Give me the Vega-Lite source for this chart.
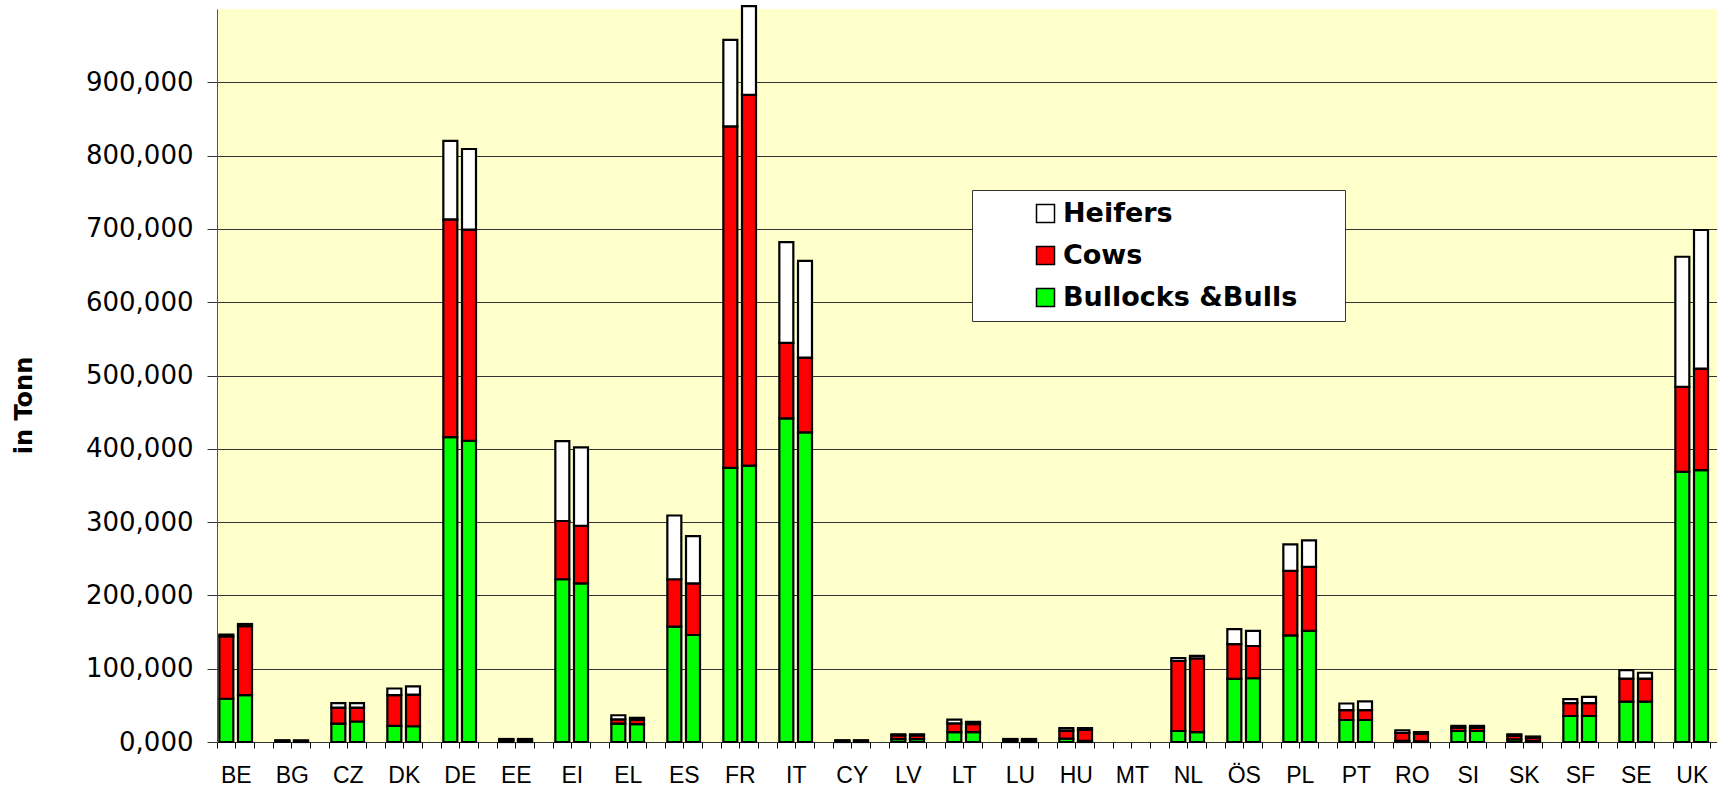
{
  "$schema": "https://vega.github.io/schema/vega-lite/v6.json",
  "autosize": {"type": "none"},
  "padding": {"left": 217, "top": 9, "right": 0, "bottom": 45},
  "width": 1500,
  "height": 733,
  "background": "white",
  "config": {
    "view": {"fill": "#FFFFCC", "stroke": null}
  },
  "data": {
    "values": [
      {"bar": "BE 1", "Bullocks &Bulls": 59000, "Cows": 85000, "Heifers": 2500},
      {"bar": "BE 2", "Bullocks &Bulls": 64000, "Cows": 94000, "Heifers": 3000},
      {"bar": "BG 1", "Bullocks &Bulls": 1000, "Cows": 800, "Heifers": 300},
      {"bar": "BG 2", "Bullocks &Bulls": 1000, "Cows": 800, "Heifers": 300},
      {"bar": "CZ 1", "Bullocks &Bulls": 25000, "Cows": 22000, "Heifers": 6000},
      {"bar": "CZ 2", "Bullocks &Bulls": 28000, "Cows": 19000, "Heifers": 6000},
      {"bar": "DK 1", "Bullocks &Bulls": 22000, "Cows": 42000, "Heifers": 9000},
      {"bar": "DK 2", "Bullocks &Bulls": 21500, "Cows": 43000, "Heifers": 11500},
      {"bar": "DE 1", "Bullocks &Bulls": 416000, "Cows": 297000, "Heifers": 107000},
      {"bar": "DE 2", "Bullocks &Bulls": 411000, "Cows": 288000, "Heifers": 110000},
      {"bar": "EE 1", "Bullocks &Bulls": 1800, "Cows": 1700, "Heifers": 600},
      {"bar": "EE 2", "Bullocks &Bulls": 1800, "Cows": 1700, "Heifers": 600},
      {"bar": "EI 1", "Bullocks &Bulls": 222000, "Cows": 79500, "Heifers": 109000},
      {"bar": "EI 2", "Bullocks &Bulls": 216500, "Cows": 78500, "Heifers": 107000},
      {"bar": "EL 1", "Bullocks &Bulls": 25000, "Cows": 6000, "Heifers": 5500},
      {"bar": "EL 2", "Bullocks &Bulls": 24500, "Cows": 5500, "Heifers": 3000},
      {"bar": "ES 1", "Bullocks &Bulls": 157500, "Cows": 64500, "Heifers": 87000},
      {"bar": "ES 2", "Bullocks &Bulls": 146000, "Cows": 70500, "Heifers": 64500},
      {"bar": "FR 1", "Bullocks &Bulls": 374000, "Cows": 466000, "Heifers": 118000},
      {"bar": "FR 2", "Bullocks &Bulls": 377000, "Cows": 506000, "Heifers": 121000},
      {"bar": "IT 1", "Bullocks &Bulls": 441500, "Cows": 103000, "Heifers": 137500},
      {"bar": "IT 2", "Bullocks &Bulls": 422500, "Cows": 102000, "Heifers": 132000},
      {"bar": "CY 1", "Bullocks &Bulls": 1000, "Cows": 1000, "Heifers": 300},
      {"bar": "CY 2", "Bullocks &Bulls": 1000, "Cows": 1000, "Heifers": 300},
      {"bar": "LV 1", "Bullocks &Bulls": 4000, "Cows": 5000, "Heifers": 1500},
      {"bar": "LV 2", "Bullocks &Bulls": 4000, "Cows": 5000, "Heifers": 1500},
      {"bar": "LT 1", "Bullocks &Bulls": 13500, "Cows": 12000, "Heifers": 5000},
      {"bar": "LT 2", "Bullocks &Bulls": 13500, "Cows": 11000, "Heifers": 3000},
      {"bar": "LU 1", "Bullocks &Bulls": 1800, "Cows": 1700, "Heifers": 600},
      {"bar": "LU 2", "Bullocks &Bulls": 1800, "Cows": 1700, "Heifers": 600},
      {"bar": "HU 1", "Bullocks &Bulls": 4500, "Cows": 11000, "Heifers": 3500},
      {"bar": "HU 2", "Bullocks &Bulls": 1500, "Cows": 15000, "Heifers": 2500},
      {"bar": "NL 1", "Bullocks &Bulls": 15000, "Cows": 95500, "Heifers": 4000},
      {"bar": "NL 2", "Bullocks &Bulls": 13500, "Cows": 100500, "Heifers": 3500},
      {"bar": "ÖS 1", "Bullocks &Bulls": 86000, "Cows": 47500, "Heifers": 20500},
      {"bar": "ÖS 2", "Bullocks &Bulls": 87000, "Cows": 44000, "Heifers": 20500},
      {"bar": "PL 1", "Bullocks &Bulls": 145500, "Cows": 88000, "Heifers": 36000},
      {"bar": "PL 2", "Bullocks &Bulls": 151500, "Cows": 87500, "Heifers": 36000},
      {"bar": "PT 1", "Bullocks &Bulls": 30000, "Cows": 13500, "Heifers": 9000},
      {"bar": "PT 2", "Bullocks &Bulls": 30000, "Cows": 13500, "Heifers": 12000},
      {"bar": "RO 1", "Bullocks &Bulls": 1500, "Cows": 11000, "Heifers": 3500},
      {"bar": "RO 2", "Bullocks &Bulls": 1000, "Cows": 10500, "Heifers": 2000},
      {"bar": "SI 1", "Bullocks &Bulls": 15000, "Cows": 4500, "Heifers": 2500},
      {"bar": "SI 2", "Bullocks &Bulls": 15000, "Cows": 4500, "Heifers": 2500},
      {"bar": "SK 1", "Bullocks &Bulls": 3500, "Cows": 5000, "Heifers": 2000},
      {"bar": "SK 2", "Bullocks &Bulls": 1500, "Cows": 4500, "Heifers": 1500},
      {"bar": "SF 1", "Bullocks &Bulls": 35500, "Cows": 17500, "Heifers": 5500},
      {"bar": "SF 2", "Bullocks &Bulls": 35500, "Cows": 17500, "Heifers": 8500},
      {"bar": "SE 1", "Bullocks &Bulls": 55000, "Cows": 31500, "Heifers": 11500},
      {"bar": "SE 2", "Bullocks &Bulls": 55000, "Cows": 31500, "Heifers": 8000},
      {"bar": "UK 1", "Bullocks &Bulls": 368500, "Cows": 116000, "Heifers": 177500},
      {"bar": "UK 2", "Bullocks &Bulls": 371000, "Cows": 138500, "Heifers": 189000}
    ]
  },
  "transform": [
    {"fold": ["Bullocks &Bulls", "Cows", "Heifers"], "as": ["type", "tonnes"]}
  ],
  "mark": {"type": "bar", "size": 14, "stroke": "black", "strokeWidth": 2.2},
  "encoding": {
    "x": {
      "field": "bar",
      "type": "nominal",
      "scale": {
        "domain": ["BE 1","BE 2","BE 3","BG 1","BG 2","BG 3","CZ 1","CZ 2","CZ 3","DK 1","DK 2","DK 3","DE 1","DE 2","DE 3","EE 1","EE 2","EE 3","EI 1","EI 2","EI 3","EL 1","EL 2","EL 3","ES 1","ES 2","ES 3","FR 1","FR 2","FR 3","IT 1","IT 2","IT 3","CY 1","CY 2","CY 3","LV 1","LV 2","LV 3","LT 1","LT 2","LT 3","LU 1","LU 2","LU 3","HU 1","HU 2","HU 3","MT 1","MT 2","MT 3","NL 1","NL 2","NL 3","ÖS 1","ÖS 2","ÖS 3","PL 1","PL 2","PL 3","PT 1","PT 2","PT 3","RO 1","RO 2","RO 3","SI 1","SI 2","SI 3","SK 1","SK 2","SK 3","SF 1","SF 2","SF 3","SE 1","SE 2","SE 3","UK 1","UK 2","UK 3"],
        "range": [0, 1512],
        "paddingInner": 0,
        "paddingOuter": 0
      },
      "axis": {
        "title": null,
        "bandPosition": 0,
        "labelAngle": 0,
        "labelOffset": 10,
        "labelExpr": "split(datum.value, ' ')[1] == '1' ? split(datum.value, ' ')[0] : ''",
        "labelFont": "Liberation Sans",
        "labelFontSize": 23,
        "labelColor": "black",
        "labelPadding": 16,
        "labelOverlap": false,
        "tickSize": 6,
        "tickColor": "black",
        "domainColor": "#333333",
        "grid": false
      }
    },
    "y": {
      "field": "tonnes",
      "type": "quantitative",
      "stack": "zero",
      "scale": {"domain": [0, 1000000], "nice": false},
      "axis": {
        "title": "in Tonn",
        "titleFont": "DejaVu Sans",
        "titleFontWeight": "bold",
        "titleFontSize": 24,
        "titleColor": "black",
        "titleX": -193,
        "titleY": 396,
        "titleAngle": 270,
        "titleAlign": "center",
        "titleBaseline": "middle",
        "values": [0, 100000, 200000, 300000, 400000, 500000, 600000, 700000, 800000, 900000],
        "labelExpr": "datum.value == 0 ? '0,000' : format(datum.value, ',')",
        "labelFont": "DejaVu Sans",
        "labelFontSize": 26,
        "labelColor": "black",
        "labelPadding": 14,
        "tickSize": 10,
        "tickColor": "#333333",
        "domainColor": "#555555",
        "grid": true,
        "gridColor": "#333333",
        "gridWidth": 1
      }
    },
    "color": {
      "field": "type",
      "type": "nominal",
      "scale": {
        "domain": ["Heifers", "Cows", "Bullocks &Bulls"],
        "range": ["#FFFFFF", "#FF0000", "#00FF00"]
      },
      "legend": {
        "orient": "none",
        "legendX": 755,
        "legendY": 181,
        "title": null,
        "direction": "vertical",
        "fillColor": "white",
        "strokeColor": "#333333",
        "padding": 10,
        "symbolType": "square",
        "symbolSize": 324,
        "symbolStrokeColor": "black",
        "symbolStrokeWidth": 1.5,
        "symbolOffset": 50,
        "labelOffset": 4,
        "labelFont": "DejaVu Sans",
        "labelFontWeight": "bold",
        "labelFontSize": 27,
        "labelColor": "black",
        "labelLimit": 0,
        "rowPadding": 14,
        "labelExpr": "datum.label + '\u00a0\u00a0\u00a0\u00a0\u200b'"
      }
    },
    "order": {"field": "type", "sort": "ascending"}
  }
}
